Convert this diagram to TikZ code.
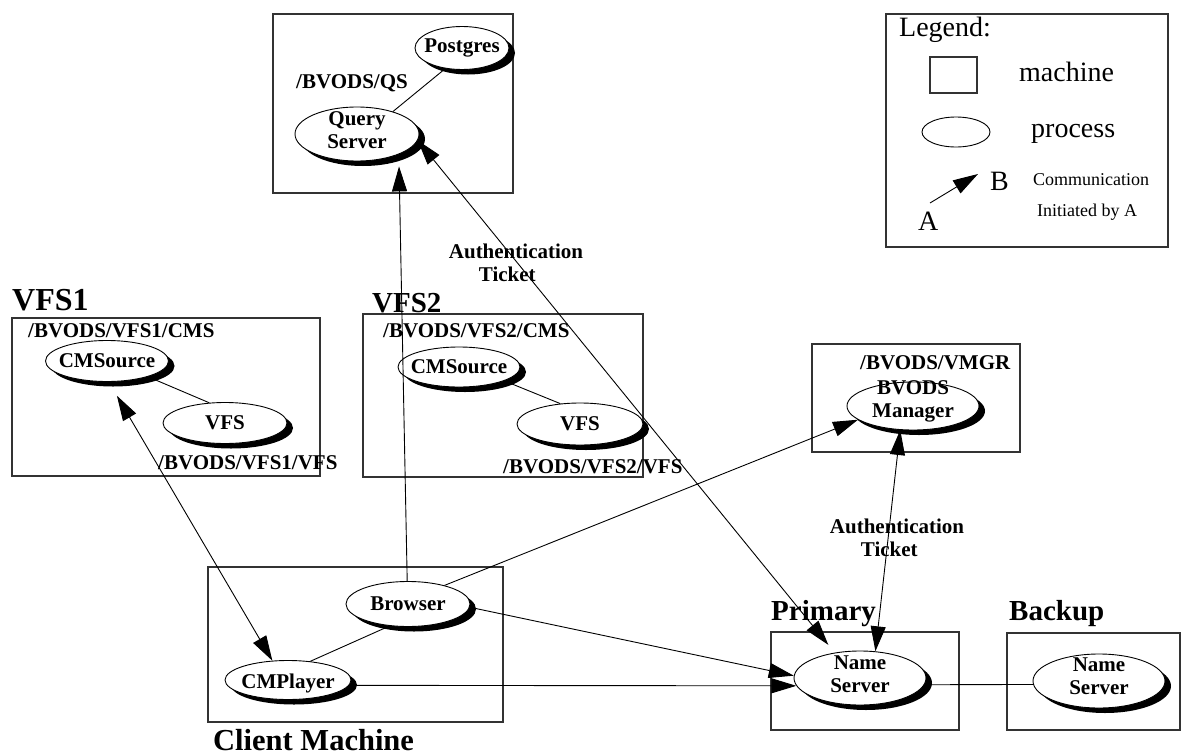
\documentclass[tikz,border=0pt]{standalone}
\usepackage{fontspec}
\setmainfont{Liberation Serif}
\usetikzlibrary{arrows.meta,shapes.geometric,shadows}

\begin{document}
\begin{tikzpicture}[x=1pt,y=-1pt,
  machine/.style={draw=black!80, line width=1.2pt, rectangle, inner sep=0pt},
  proc/.style={ellipse, draw, line width=0.9pt, fill=white, inner sep=0pt,
    drop shadow={shadow xshift=6pt, shadow yshift=-5pt, fill=black, opacity=1}},
  plabel/.style={font=\fontsize{21}{23}\selectfont\bfseries, align=center, inner sep=0pt},
  pathlbl/.style={font=\fontsize{21}{23}\selectfont\bfseries, anchor=base west, inner sep=0pt},
  big/.style={font=\fontsize{29}{32}\selectfont\bfseries, anchor=base west, inner sep=0pt},
  lg/.style={font=\fontsize{28}{32}\selectfont, anchor=base west, inner sep=0pt},
  lgs/.style={font=\fontsize{18}{21}\selectfont, anchor=base west, inner sep=0pt},
  wire/.style={line width=0.9pt},
  arr/.style={wire, -{Triangle[length=25pt,width=15pt]}},
  darr/.style={wire, {Triangle[length=25pt,width=15pt]}-{Triangle[length=25pt,width=15pt]}},
]
\useasboundingbox (0,0) rectangle (1187,755);

% machines
\node[machine, minimum width=240pt, minimum height=179pt] (qsbox) at (393,103.5) {};
\node[machine, minimum width=308pt, minimum height=158pt] (vfs1box) at (166,397) {};
\node[machine, minimum width=280pt, minimum height=163pt] (vfs2box) at (503,395.5) {};
\node[machine, minimum width=208pt, minimum height=108pt] (bmbox) at (916,398) {};
\node[machine, minimum width=295pt, minimum height=155pt] (clientbox) at (355.5,644.5) {};
\node[machine, minimum width=188pt, minimum height=98pt] (primbox) at (865,681) {};
\node[machine, minimum width=173pt, minimum height=97pt] (backbox) at (1093.5,681.5) {};

% machine names
\node[big, font=\fontsize{32}{35}\selectfont\bfseries] (lvfs1) at (12,310) {VFS1};
\node[big] (lvfs2) at (372,312) {VFS2};
\node[big] (lprim) at (771,620) {Primary};
\node[big] (lback) at (1009,620) {Backup};
\node[big, font=\fontsize{30.5}{34}\selectfont\bfseries] (lclient) at (213,750) {Client Machine};

% process names
\node[pathlbl] (pqs) at (296,88) {/BVODS/QS};
\node[pathlbl] (pcms1) at (28,337) {/BVODS/VFS1/CMS};
\node[pathlbl] (pvfs1) at (158,469) {/BVODS/VFS1/VFS};
\node[pathlbl] (pcms2) at (383,337) {/BVODS/VFS2/CMS};
\node[pathlbl] (pvfs2) at (503,473) {/BVODS/VFS2/VFS};
\node[pathlbl] (pbm) at (860,369) {/BVODS/VMGR};

% processes
\node[proc, minimum width=124pt, minimum height=54pt,
  label={[plabel, yshift=4pt]center:Query\\Server}] (qs) at (357,134) {};
\node[proc, minimum width=94pt, minimum height=43pt,
  label={[plabel]center:Postgres}] (pg) at (462,48) {};
\node[proc, minimum width=123pt, minimum height=41pt,
  label={[plabel]center:CMSource}] (cms1) at (107,361) {};
\node[proc, minimum width=124pt, minimum height=41pt,
  label={[plabel]center:VFS}] (vfs1) at (225,423) {};
\node[proc, minimum width=122pt, minimum height=40pt,
  label={[plabel]center:CMSource}] (cms2) at (459,367) {};
\node[proc, minimum width=126pt, minimum height=42pt,
  label={[plabel]center:VFS}] (vfs2) at (580,424) {};
\node[proc, minimum width=132pt, minimum height=48pt,
  label={[plabel, yshift=5pt]center:BVODS\\Manager}] (bm) at (913,406) {};
\node[proc, minimum width=124pt, minimum height=45pt,
  label={[plabel]center:Browser}] (br) at (408,604) {};
\node[proc, minimum width=126pt, minimum height=39pt,
  label={[plabel, yshift=-3pt]center:CMPlayer}] (cmp) at (288,680) {};
\node[proc, minimum width=132pt, minimum height=54pt,
  label={[plabel, yshift=4pt]center:Name\\Server}] (ns1) at (860,678) {};
\node[proc, minimum width=132pt, minimum height=54pt,
  label={[plabel, yshift=5pt]center:Name\\Server}] (ns2) at (1099,681) {};

% links between processes
\draw[wire] (qs.32) -- (pg.231);
\draw[wire] (cms1.-21) -- (vfs1.128);
\draw[wire] (cms2.-17) -- (vfs2.134);
\draw[wire] (br.-130) -- (cmp.40);
\draw[wire] (ns1.-6) -- (ns2.183);

% communication
\draw[arr, shorten >=12pt] (br.92) -- (qs.-26);
\draw[darr, shorten <=10pt] (ns1.135) -- (qs.-6);
\draw[darr, shorten >=16pt] (cmp.129) -- (cms1.-85);
\draw[arr] (br.27) -- (bm.194);
\draw[darr] (ns1.60) -- (bm.242);
\draw[arr] (br.-3) -- (ns1.178);
\draw[arr] (cmp.-5) -- (ns1.187);

\node[plabel, align=left] (auth1) at (516,263) {Authentication\\\hspace*{30pt}Ticket};
\node[plabel, align=left] (auth2) at (897,538) {Authentication\\\hspace*{31pt}Ticket};

% legend
\node[machine, minimum width=282pt, minimum height=233pt] (legend) at (1027,130.5) {};
\node[lg] (legt) at (899,36) {Legend:};
\node[machine, minimum width=47pt, minimum height=36pt] (legbox) at (953.5,75) {};
\node[lg] (legm) at (1019,81) {machine};
\node[ellipse, draw, line width=0.9pt, minimum width=68pt, minimum height=30pt, inner sep=0pt] (legproc) at (956,132) {};
\node[lg] (legp) at (1031,137) {process};
\coordinate (lega) at (930,203);
\coordinate (legb) at (978,174);
\draw[arr] (lega) -- (legb);
\node[lg] (la) at (918,230) {A};
\node[lg] (lb) at (990,190) {B};
\node[lgs] (lc1) at (1033,185) {Communication};
\node[lgs] (lc2) at (1037,216) {Initiated by A};
\end{tikzpicture}
\end{document}
